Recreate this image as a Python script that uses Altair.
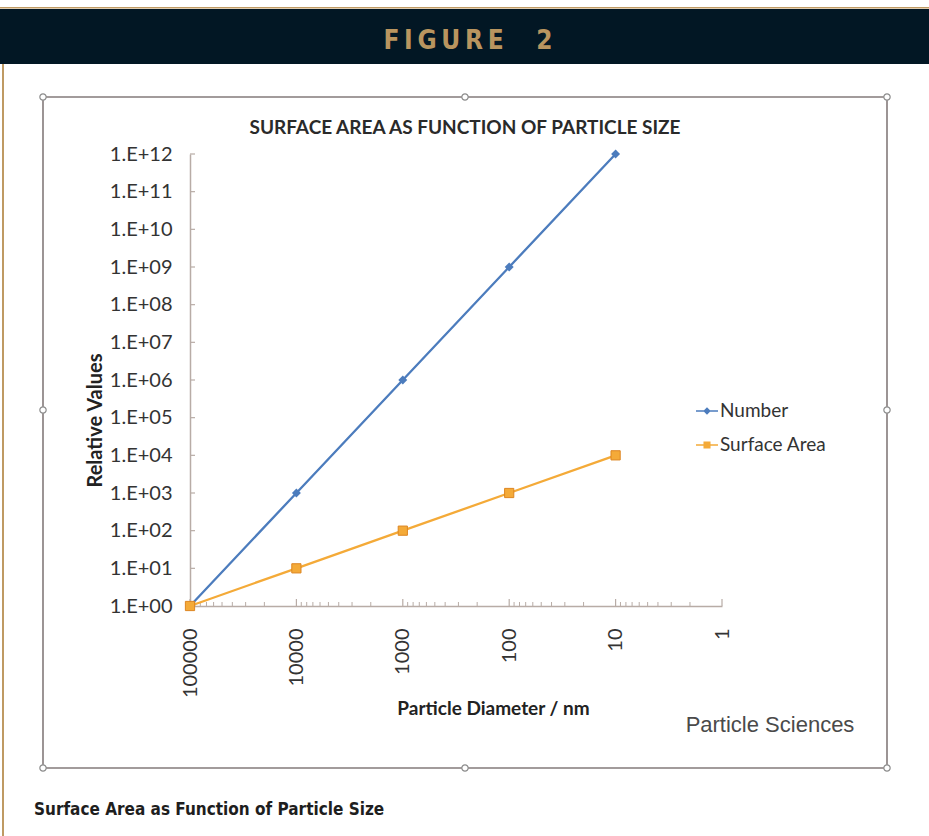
import altair as alt
import pandas as pd

# ---- chart values -------------------------------------------------------
diameter_nm = [100000, 10000, 1000, 100, 10]
number_rel = [1, 1e3, 1e6, 1e9, 1e12]
surface_rel = [1, 10, 100, 1000, 10000]
series_names = ["Number", "Surface Area"]

x_major = [100000, 10000, 1000, 100, 10, 1]
x_minor = [m * 10 ** d for d in range(5) for m in range(2, 10)]
y_major = [10 ** k for k in range(13)]

header_text = "F\u2009I\u2009G\u2009U\u2009R\u2009E\u00a0\u00a0\u00a0\u00a02"
chart_title = "SURFACE AREA AS FUNCTION OF PARTICLE SIZE"
x_title = "Particle Diameter / nm"
y_title = "Relative Values"
brand_text = "Particle Sciences"
caption_text = "Surface Area as Function of Particle Size"

# ---- styling ------------------------------------------------------------
series_colors = ["#4c7cbd", "#f4aa38"]
# legend glyphs: short line with the series marker on it
legend_paths = [
    "M-1,-0.07L1,-0.07L1,0.07L-1,0.07Z M0,-0.34L0.34,0L0,0.34L-0.34,0Z",
    "M-1,-0.07L1,-0.07L1,0.07L-1,0.07Z M-0.32,-0.32L0.32,-0.32L0.32,0.32L-0.32,0.32Z",
]
axis_color = "#b8aca6"
gold = "#bf9a63"
navy = "#021724"
text_font = "Lato"
narrow_font = "Liberation Sans Narrow, DejaVu Sans Condensed, Roboto, sans-serif"

W, H = 532, 452          # plot area
LEFT, TOP = 190, 154     # plot origin on the page
PAGE_W, PAGE_H = 929, 836

df = pd.DataFrame({
    "diameter": diameter_nm * 2,
    "value": number_rel + surface_rel,
    "series": [series_names[0]] * len(diameter_nm) + [series_names[1]] * len(diameter_nm),
})

x_enc = alt.X(
    "diameter:Q",
    scale=alt.Scale(type="log", domain=[1, 100000], reverse=True, nice=False),
    axis=alt.Axis(
        values=x_major, format="d", labelAngle=-90, labelPadding=22,
        labelFont=text_font, labelFontSize=20, labelColor="#333333",
        ticks=False, domainColor=axis_color, domainWidth=1.5, grid=False,
        title=x_title, titleFont=text_font, titleFontSize=19, titleFontWeight="bold",
        titleColor="#222222", titleX=303, titleY=102, titleAlign="center",
        titleBaseline="middle",
    ),
)
y_enc = alt.Y(
    "value:Q",
    scale=alt.Scale(type="log", domain=[1, 1e12], nice=False),
    axis=alt.Axis(
        values=y_major,
        labelExpr="'1.E+' + (round(log(datum.value) / LN10) < 10 ? '0' : '') + round(log(datum.value) / LN10)",
        labelPadding=18, labelFont=text_font, labelFontSize=20, labelColor="#333333",
        ticks=False, domainColor=axis_color, domainWidth=1.5, grid=False,
        title=y_title, titleFont=text_font, titleFontSize=20, titleFontWeight="bold",
        titleColor="#222222", titleX=-95, titleY=266, titleAngle=270,
        titleAlign="center", titleBaseline="middle",
    ),
)
color_scale = alt.Scale(domain=series_names, range=series_colors)


def text_layer(txt, x, y, **kw):
    return alt.Chart(pd.DataFrame({"t": [txt]})).mark_text(**kw).encode(
        text="t:N", x=alt.value(x), y=alt.value(y)
    )


def band(x0, x1, y0, y1, color):
    return alt.Chart(pd.DataFrame({"k": [0]})).mark_rect(color=color).encode(
        x=alt.value(x0 - LEFT), x2=alt.value(x1 - LEFT),
        y=alt.value(y0 - TOP), y2=alt.value(y1 - TOP),
    )


# page furniture: header bar, gold rules, chart frame with its handles
header = band(0, PAGE_W, 9, 64, navy)
gold_top = band(0, PAGE_W, 7, 8.5, gold)
gold_left = band(2, 4, 64, PAGE_H, gold)
header_label = text_layer(header_text, 468 - LEFT, 41 - TOP, font=narrow_font,
                          fontSize=26, fontWeight="bold", color="#b9955f",
                          align="center", baseline="middle")

frame = alt.Chart(pd.DataFrame({"k": [0]})).mark_rect(
    fillOpacity=0, stroke="#847b7b", strokeWidth=1.6
).encode(
    x=alt.value(43 - LEFT), x2=alt.value(887 - LEFT),
    y=alt.value(97 - TOP), y2=alt.value(768 - TOP),
)
handles = [
    alt.Chart(pd.DataFrame({"k": [0]})).mark_point(
        filled=True, fill="white", stroke="#8c8c8c", strokeWidth=1.2, size=40, opacity=1
    ).encode(x=alt.value(hx - LEFT), y=alt.value(hy - TOP))
    for hx, hy in [(43, 97), (465, 97), (887, 97), (43, 410), (887, 410),
                   (43, 768), (465, 768), (887, 768)]
]

title_label = text_layer(chart_title, 465 - LEFT, 128 - TOP, font=text_font, fontSize=19,
                         fontWeight="bold", color="#2a2a2a", align="center",
                         baseline="middle")
brand = text_layer(brand_text, 770 - LEFT, 725 - TOP, font="Liberation Sans", fontSize=22,
                   color="#4a4a4a", align="center", baseline="middle")
caption = text_layer(caption_text, 34 - LEFT, 810 - TOP, font=narrow_font,
                     fontSize=17, fontWeight="bold", color="#1e1e1e",
                     align="left", baseline="middle")

# axis ticks drawn inside the plot
x_minor_ticks = alt.Chart(pd.DataFrame({"diameter": x_minor})).mark_rule(
    color=axis_color, strokeWidth=1
).encode(x=x_enc, y=alt.value(H), y2=alt.value(H - 4))
x_major_ticks = alt.Chart(pd.DataFrame({"diameter": x_major})).mark_rule(
    color=axis_color, strokeWidth=1.2
).encode(x=x_enc, y=alt.value(H), y2=alt.value(H - 7))
y_ticks = alt.Chart(pd.DataFrame({"value": y_major})).mark_rule(
    color=axis_color, strokeWidth=1.2
).encode(y=y_enc, x=alt.value(0), x2=alt.value(5))

# data series
lines = alt.Chart(df).mark_line(strokeWidth=2.3).encode(
    x=x_enc, y=y_enc, color=alt.Color("series:N", scale=color_scale, legend=None)
)
number_pts = alt.Chart(df).transform_filter(
    alt.datum.series == series_names[0]
).mark_point(shape="diamond", filled=True, size=80, opacity=1).encode(
    x=x_enc, y=y_enc, color=alt.Color("series:N", scale=color_scale, legend=None)
)
surface_pts = alt.Chart(df).transform_filter(
    alt.datum.series == series_names[1]
).mark_point(shape="square", filled=True, size=85, opacity=1,
             stroke="#dd8622", strokeWidth=1).encode(
    x=x_enc, y=y_enc, color=alt.Color("series:N", scale=color_scale, legend=None)
)

# invisible layer that only carries the legend (line + marker glyphs)
legend_spec = alt.Legend(
    title=None, orient="none", legendX=506, legendY=246, padding=0,
    labelFont=text_font, labelFontSize=19, labelColor="#333333", labelOffset=2,
    symbolSize=484, symbolStrokeWidth=0, symbolOpacity=1, rowPadding=13,
)
legend_layer = alt.Chart(df).mark_point(filled=True, opacity=0).encode(
    x=x_enc, y=y_enc,
    color=alt.Color("series:N", scale=color_scale, legend=legend_spec),
    shape=alt.Shape("series:N", scale=alt.Scale(domain=series_names, range=legend_paths),
                    legend=legend_spec),
)

chart = alt.layer(
    header, gold_top, gold_left, header_label, frame, *handles, title_label, brand, caption,
    x_minor_ticks, x_major_ticks, y_ticks, legend_layer, lines, number_pts, surface_pts,
).properties(
    width=W, height=H,
    autosize=alt.AutoSizeParams(type="none"),
    padding={"left": LEFT, "top": TOP, "right": PAGE_W - LEFT - W, "bottom": PAGE_H - TOP - H},
    background="white",
).configure_view(stroke=None)

chart.save("out.html", embed_options={"renderer": "svg", "actions": False})
